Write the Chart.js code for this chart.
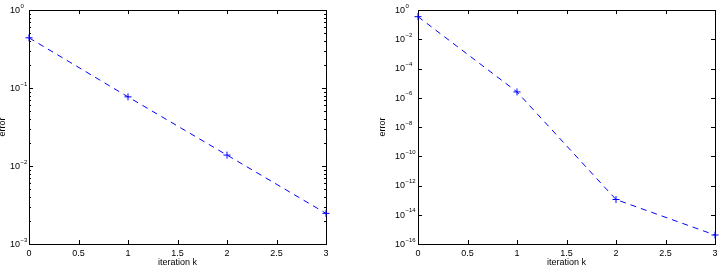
<!DOCTYPE html>
<html>
<head>
<meta charset="utf-8">
<script src="https://cdn.jsdelivr.net/npm/chart.js@4.4.0/dist/chart.umd.min.js"></script>
<style>
  body { margin: 0; background: #fff; width: 722px; height: 278px; overflow: hidden; position: relative; }
  .box { position: absolute; top: 0; width: 361px; height: 278px; }
</style>
</head>
<body>
<div class="box" style="left:0"><canvas id="left" width="361" height="278"></canvas></div>
<div class="box" style="left:361px"><canvas id="right" width="361" height="278"></canvas></div>
<script>
const iterations = [0, 1, 2, 3];
const errorLeft = [0.44, 0.077, 0.0138, 0.00247];
const errorRight = [0.35, 2.5e-6, 1.1e-13, 4.1e-16];
const xTicks = [0, 0.5, 1, 1.5, 2, 2.5, 3];
const yTicksLeft = [1e-3, 1e-2, 1e-1, 1];
const yTicksRight = [1e-16, 1e-14, 1e-12, 1e-10, 1e-8, 1e-6, 1e-4, 1e-2, 1];

const FAMILY = '"Liberation Sans", Arial, sans-serif';
const font = { family: FAMILY, size: 9 };

// minor log ticks (2..9 per decade) for the left plot
function minorTicks(lo, hi) {
  const out = [];
  for (let d = lo; d < hi; d++) {
    for (let k = 2; k <= 9; k++) out.push(k * Math.pow(10, d));
  }
  return out;
}

// matplotlib-like box with inward ticks on all four sides
const framePlugin = {
  id: 'frame',
  beforeDatasetsDraw(chart, args, opts) {
    const { ctx, chartArea: a, scales } = chart;
    ctx.save();
    ctx.strokeStyle = '#000';
    ctx.lineWidth = 1;
    ctx.beginPath();
    xTicks.forEach(v => {
      const px = Math.round(scales.x.getPixelForValue(v)) + 0.5;
      ctx.moveTo(px, a.bottom); ctx.lineTo(px, a.bottom - 4);
      ctx.moveTo(px, a.top); ctx.lineTo(px, a.top + 4);
    });
    opts.major.forEach(v => {
      const py = Math.round(scales.y.getPixelForValue(v)) + 0.5;
      ctx.moveTo(a.left, py); ctx.lineTo(a.left + 4, py);
      ctx.moveTo(a.right, py); ctx.lineTo(a.right - 4, py);
    });
    opts.minor.forEach(v => {
      const py = Math.round(scales.y.getPixelForValue(v)) + 0.5;
      ctx.moveTo(a.left, py); ctx.lineTo(a.left + 2, py);
      ctx.moveTo(a.right, py); ctx.lineTo(a.right - 2, py);
    });
    ctx.stroke();
    ctx.strokeRect(Math.round(a.left) + 0.5, Math.round(a.top) + 0.5,
      Math.round(a.right - a.left), Math.round(a.bottom - a.top));

    // y tick labels as 10 with a raised exponent
    ctx.fillStyle = '#000';
    ctx.textBaseline = 'middle';
    ctx.textAlign = 'left';
    const x0 = scales.y.left;
    opts.major.forEach(v => {
      const py = scales.y.getPixelForValue(v);
      const e = Math.round(Math.log10(v));
      ctx.font = '9px ' + FAMILY;
      ctx.fillText('10', x0, py + 0.5);
      const w = ctx.measureText('10').width;
      ctx.font = '6px ' + FAMILY;
      ctx.fillText(e < 0 ? '\u2212' + (-e) : String(e), x0 + w + 0.5, py - 4);
    });
    ctx.restore();
  }
};

function makeChart(id, values, yMin, yTicks, minor, pad, yWidth, titlePad) {
  return new Chart(document.getElementById(id), {
    type: 'line',
    data: {
      datasets: [{
        data: iterations.map((x, i) => ({ x: x, y: values[i] })),
        borderColor: '#0000ff',
        borderWidth: 1,
        borderDash: [6, 5],
        pointStyle: 'cross',
        pointRadius: 3.5,
        pointBorderColor: '#0000ff',
        pointBorderWidth: 1,
        fill: false,
        tension: 0,
        clip: false
      }]
    },
    options: {
      responsive: false,
      animation: false,
      layout: { padding: pad },
      plugins: {
        legend: { display: false },
        tooltip: { enabled: false },
        frame: { major: yTicks, minor: minor }
      },
      scales: {
        x: {
          type: 'linear', min: 0, max: 3,
          afterBuildTicks: s => { s.ticks = xTicks.map(v => ({ value: v })); },
          afterFit: s => { s.height = 34; },
          grid: { display: false, drawTicks: false },
          border: { display: false },
          ticks: { font, color: '#000', padding: 4, autoSkip: false, maxRotation: 0, callback: v => String(v) },
          title: { display: true, text: 'iteration k', font, color: '#000', padding: { top: 0, bottom: 9.6 } }
        },
        y: {
          type: 'logarithmic', min: yMin, max: 1,
          afterBuildTicks: s => { s.ticks = yTicks.map(v => ({ value: v })); },
          afterFit: s => { s.width = yWidth; },
          grid: { display: false, drawTicks: false },
          border: { display: false },
          ticks: { display: false },
          title: { display: true, text: 'error', font, color: '#000', padding: { top: titlePad, bottom: 0 } }
        }
      }
    },
    plugins: [framePlugin]
  });
}

makeChart('left', errorLeft, 1e-3, yTicksLeft, minorTicks(-3, 0),
  { top: 10, right: 35, left: 10, bottom: 0 }, 19, -12.4);
makeChart('right', errorRight, 1e-16, yTicksRight, [],
  { top: 10, right: 7, left: 34, bottom: 0 }, 23, -17.4);
</script>
</body>
</html>
